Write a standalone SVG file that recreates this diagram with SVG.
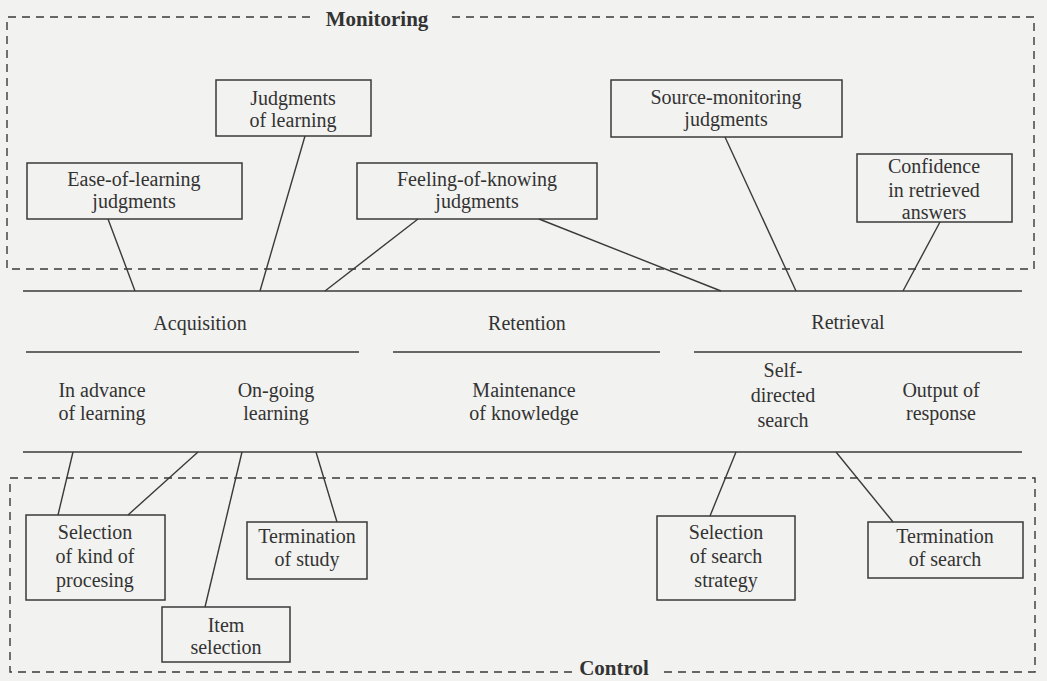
<svg xmlns="http://www.w3.org/2000/svg" width="1047" height="681" viewBox="0 0 1047 681">
  <style>
    .bg { fill: #f2f2f0; }
    .dash { fill: none; stroke: #3a3a3a; stroke-width: 1.4; stroke-dasharray: 8 6; }
    .rule { fill: none; stroke: #3a3a3a; stroke-width: 1.5; }
    .box { fill: none; stroke: #3a3a3a; stroke-width: 1.5; }
    .conn { fill: none; stroke: #3a3a3a; stroke-width: 1.4; }
    text { font-family: "Liberation Serif", "Times New Roman", serif; fill: #333; }
    .t { font-size: 20px; text-anchor: middle; }
    .title { font-size: 21px; font-weight: bold; text-anchor: middle; }
  </style>
  <rect class="bg" x="0" y="0" width="1047" height="681"/>

  <g id="monitoring-region">
    <path class="dash" d="M310 17 H7 V269 H1034 V17 H446"/>
    <text class="title" x="377" y="26">Monitoring</text>
  </g>
  <g id="control-region">
    <path class="dash" d="M572 672 H10 V478 H1035 V672 H658"/>
    <text class="title" x="614" y="675">Control</text>
  </g>

  <g id="stage-rules">
    <path class="rule" d="M23 291 H1022"/>
    <path class="rule" d="M26 352 H359 M393 352 H660 M694 352 H1022"/>
    <path class="rule" d="M23 452 H1022"/>
  </g>

  <g id="connectors">
    <path class="conn" d="M108 219 L135 291"/>
    <path class="conn" d="M305 136 L260 291"/>
    <path class="conn" d="M418 219 L325 291"/>
    <path class="conn" d="M539 219 L721 291"/>
    <path class="conn" d="M725 137 L796 291"/>
    <path class="conn" d="M940 222 L903 291"/>
    <path class="conn" d="M73 452 L58 515"/>
    <path class="conn" d="M198 452 L128 515"/>
    <path class="conn" d="M242 452 L205 607"/>
    <path class="conn" d="M316 452 L337 522"/>
    <path class="conn" d="M736 452 L710 516"/>
    <path class="conn" d="M836 452 L893 522"/>
  </g>

  <g id="judgments-of-learning">
    <rect class="box" x="216" y="80" width="155" height="56"/>
    <text class="t" x="293" y="105">Judgments</text>
    <text class="t" x="293" y="127">of learning</text>
  </g>
  <g id="ease-of-learning">
    <rect class="box" x="27" y="163" width="215" height="56"/>
    <text class="t" x="134" y="186">Ease-of-learning</text>
    <text class="t" x="134" y="208">judgments</text>
  </g>
  <g id="feeling-of-knowing">
    <rect class="box" x="357" y="163" width="240" height="56"/>
    <text class="t" x="477" y="186">Feeling-of-knowing</text>
    <text class="t" x="477" y="208">judgments</text>
  </g>
  <g id="source-monitoring">
    <rect class="box" x="611" y="80" width="231" height="57"/>
    <text class="t" x="726" y="104">Source-monitoring</text>
    <text class="t" x="726" y="126">judgments</text>
  </g>
  <g id="confidence">
    <rect class="box" x="857" y="154" width="155" height="68"/>
    <text class="t" x="934" y="173">Confidence</text>
    <text class="t" x="934" y="197">in retrieved</text>
    <text class="t" x="934" y="219">answers</text>
  </g>

  <g id="acquisition"><text class="t" x="200" y="330">Acquisition</text></g>
  <g id="retention"><text class="t" x="527" y="330">Retention</text></g>
  <g id="retrieval"><text class="t" x="848" y="329">Retrieval</text></g>

  <g id="in-advance">
    <text class="t" x="102" y="397">In advance</text>
    <text class="t" x="102" y="420">of learning</text>
  </g>
  <g id="on-going">
    <text class="t" x="276" y="397">On-going</text>
    <text class="t" x="276" y="420">learning</text>
  </g>
  <g id="maintenance">
    <text class="t" x="524" y="397">Maintenance</text>
    <text class="t" x="524" y="420">of knowledge</text>
  </g>
  <g id="self-directed">
    <text class="t" x="783" y="377">Self-</text>
    <text class="t" x="783" y="402">directed</text>
    <text class="t" x="783" y="427">search</text>
  </g>
  <g id="output">
    <text class="t" x="941" y="397">Output of</text>
    <text class="t" x="941" y="420">response</text>
  </g>

  <g id="selection-kind">
    <rect class="box" x="26" y="515" width="139" height="85"/>
    <text class="t" x="95" y="539">Selection</text>
    <text class="t" x="95" y="563">of kind of</text>
    <text class="t" x="95" y="587">procesing</text>
  </g>
  <g id="item-selection">
    <rect class="box" x="162" y="607" width="128" height="55"/>
    <text class="t" x="226" y="632">Item</text>
    <text class="t" x="226" y="654">selection</text>
  </g>
  <g id="termination-study">
    <rect class="box" x="247" y="522" width="120" height="57"/>
    <text class="t" x="307" y="543">Termination</text>
    <text class="t" x="307" y="566">of study</text>
  </g>
  <g id="selection-search">
    <rect class="box" x="657" y="516" width="138" height="84"/>
    <text class="t" x="726" y="539">Selection</text>
    <text class="t" x="726" y="563">of search</text>
    <text class="t" x="726" y="587">strategy</text>
  </g>
  <g id="termination-search">
    <rect class="box" x="868" y="522" width="155" height="56"/>
    <text class="t" x="945" y="543">Termination</text>
    <text class="t" x="945" y="566">of search</text>
  </g>
</svg>
